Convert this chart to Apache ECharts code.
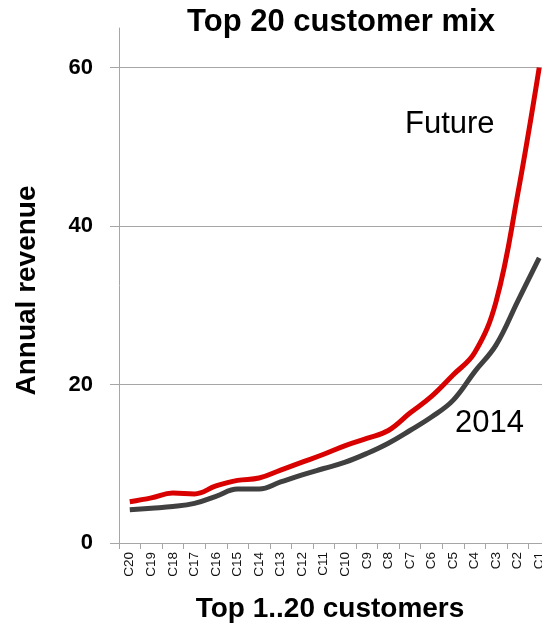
<!DOCTYPE html>
<html>
<head>
<meta charset="utf-8">
<script src="https://cdn.jsdelivr.net/npm/echarts@6/dist/echarts.min.js"></script>
<style>
html,body{margin:0;padding:0;background:#fff;}
#chart{width:542px;height:624px;}
</style>
</head>
<body>
<div id="chart"></div>
<script>
var categories = ['C20','C19','C18','C17','C16','C15','C14','C13','C12','C11','C10','C9','C8','C7','C6','C5','C4','C3','C2','C1'];
var futureValues = [5.2, 5.7, 6.3, 6.2, 7.2, 7.9, 8.2, 9.2, 10.2, 11.2, 12.3, 13.2, 14.2, 16.4, 18.5, 21.2, 24.0, 30.5, 44, 60];
var values2014 = [4.2, 4.4, 4.6, 5.0, 5.9, 6.8, 6.8, 7.7, 8.6, 9.4, 10.2, 11.3, 12.6, 14.2, 15.9, 18.0, 21.6, 25.0, 30.5, 36.0];
var yTicks = [0, 20, 40, 60];

var FONT = '"Liberation Sans", Arial, sans-serif';
var chart = echarts.init(document.getElementById('chart'), null, {renderer: 'canvas'});
chart.setOption({
  backgroundColor: '#ffffff',
  animation: false,
  title: [
    {text: 'Top 20 customer mix', left: 336, top: 2, textAlign: 'center',
     textStyle: {fontFamily: FONT, fontWeight: 'bold', fontSize: 31, color: '#000'}},
    {text: 'Top 1..20 customers', left: 325, top: 590, textAlign: 'center',
     textStyle: {fontFamily: FONT, fontWeight: 'bold', fontSize: 28, color: '#000'}}
  ],
  grid: {left: 119, width: 431, top: 28, height: 515, containLabel: false, outerBoundsMode: 'none'},
  xAxis: {
    type: 'category',
    data: categories,
    boundaryGap: true,
    axisLine: {lineStyle: {color: '#a6a6a6', width: 1}},
    axisTick: {show: true, length: 6, alignWithLabel: false, lineStyle: {color: '#a6a6a6'}},
    axisLabel: {rotate: 90, interval: 0, margin: 9, fontFamily: FONT, fontSize: 13.5, color: '#111'},
    splitLine: {show: false}
  },
  yAxis: {
    type: 'value',
    min: 0,
    max: 65,
    interval: 20,
    name: 'Annual revenue',
    nameLocation: 'middle',
    nameRotate: 90,
    nameGap: 78,
    nameTextStyle: {fontFamily: FONT, fontWeight: 'bold', fontSize: 28, color: '#000', padding: [0, 10, 0, 0]},
    axisLine: {show: true, lineStyle: {color: '#a6a6a6', width: 1}},
    axisTick: {show: true, inside: false, length: 9, customValues: yTicks, lineStyle: {color: '#a6a6a6'}},
    axisLabel: {customValues: yTicks, margin: 26, fontFamily: FONT, fontWeight: 'bold', fontSize: 22, color: '#000'},
    splitLine: {show: true, lineStyle: {color: '#a6a6a6', width: 1}}
  },
  series: [
    {name: 'Future', type: 'line', data: futureValues, smooth: 0.4, symbol: 'none',
     lineStyle: {color: '#d90000', width: 5}, z: 3},
    {name: '2014', type: 'line', data: values2014, smooth: 0.4, symbol: 'none',
     lineStyle: {color: '#404040', width: 5}, z: 2}
  ],
  graphic: [
    {type: 'text', left: 405, top: 109, style: {text: 'Future', fontFamily: FONT, fontSize: 31, fill: '#000'}},
    {type: 'text', left: 455, top: 408, style: {text: '2014', fontFamily: FONT, fontSize: 31, fill: '#000'}}
  ]
});
</script>
</body>
</html>
